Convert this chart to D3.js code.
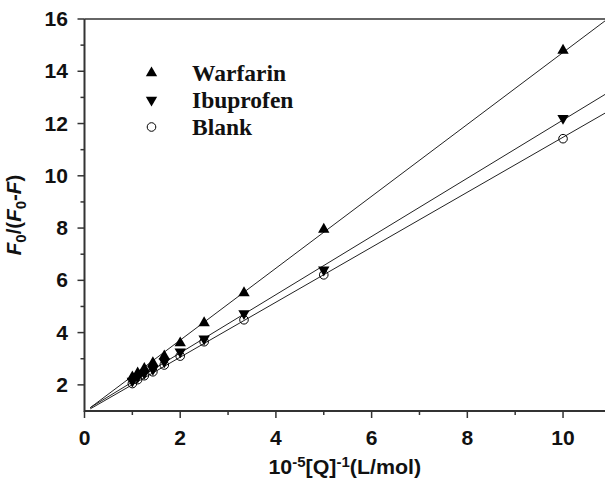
<!DOCTYPE html>
<html><head><meta charset="utf-8">
<script src="https://cdn.jsdelivr.net/npm/d3@7"></script>
<style>body{margin:0;background:#fff}svg{display:block}</style>
</head><body>
<svg id="c" width="605" height="479"></svg>
<script>
const xValues = [1, 1.111, 1.25, 1.429, 1.667, 2, 2.5, 3.333, 5, 10];
const seriesNames = ["Warfarin", "Ibuprofen", "Blank"];
const warfarin = [2.3, 2.45, 2.62, 2.84, 3.1, 3.6, 4.37, 5.52, 7.95, 14.8];
const ibuprofen = [2.15, 2.3, 2.45, 2.6, 2.89, 3.27, 3.76, 4.73, 6.4, 12.2];
const blank = [2.05, 2.2, 2.35, 2.5, 2.76, 3.1, 3.65, 4.49, 6.21, 11.42];
const fitSlopes = [1.376, 1.114, 1.052];
const fitIntercepts = [0.96, 0.996, 0.955];
const fitStart = 0.12;
const xTicks = [0, 2, 4, 6, 8, 10];
const xMinorTicks = [1, 3, 5, 7, 9];
const yTicks = [2, 4, 6, 8, 10, 12, 14, 16];
const yMinorTicks = [3, 5, 7, 9, 11, 13, 15];

const svg = d3.select("#c");
const L = 84.5, R = 605, T = 19, B = 411;
const x = d3.scaleLinear().domain([0, 10.877]).range([L, R]);
const y = d3.scaleLinear().domain([1, 16]).range([B, T]);
const sans = "'Liberation Sans', Arial, Helvetica, sans-serif";
const serif = "'Liberation Serif', 'Times New Roman', serif";

svg.append("defs").append("clipPath").attr("id", "clip")
  .append("rect").attr("x", L).attr("y", T).attr("width", R - L).attr("height", B - T);

const series = [warfarin, ibuprofen, blank];
const gLines = svg.append("g").attr("clip-path", "url(#clip)");
fitSlopes.forEach((m, i) => {
  const b = fitIntercepts[i];
  gLines.append("line")
    .attr("x1", x(fitStart)).attr("y1", y(b + m * fitStart))
    .attr("x2", x(12)).attr("y2", y(b + m * 12))
    .attr("stroke", "#222").attr("stroke-width", 1);
});

const triSize = 56;
const up = d3.symbol().type(d3.symbolTriangle).size(triSize);
function drawMarker(g, kind, cx, cy) {
  if (kind === 0) {
    g.append("path").attr("d", up()).attr("transform", `translate(${cx},${cy})`).attr("fill", "#000");
  } else if (kind === 1) {
    g.append("path").attr("d", up()).attr("transform", `translate(${cx},${cy}) rotate(180)`).attr("fill", "#000");
  } else {
    g.append("circle").attr("cx", cx).attr("cy", cy).attr("r", 4.3)
      .attr("fill", "none").attr("stroke", "#000").attr("stroke-width", 1);
  }
}
const gPts = svg.append("g");
[2, 1, 0].forEach(i => {
  series[i].forEach((v, j) => drawMarker(gPts, i, x(xValues[j]), y(v)));
});

const ax = svg.append("g").attr("stroke", "#333");
ax.append("line").attr("x1", L).attr("x2", R).attr("y1", B).attr("y2", B).attr("stroke-width", 2);
ax.append("line").attr("x1", L).attr("x2", L).attr("y1", T).attr("y2", B + 1).attr("stroke-width", 2);
ax.append("line").attr("x1", L).attr("x2", R).attr("y1", T).attr("y2", T).attr("stroke-width", 1.5);

xTicks.forEach(t => ax.append("line").attr("x1", x(t)).attr("x2", x(t)).attr("y1", B).attr("y2", B + 7).attr("stroke-width", 1.5));
xMinorTicks.forEach(t => ax.append("line").attr("x1", x(t)).attr("x2", x(t)).attr("y1", B).attr("y2", B + 4).attr("stroke-width", 1.5));
yTicks.forEach(t => ax.append("line").attr("x1", L - 7).attr("x2", L).attr("y1", y(t)).attr("y2", y(t)).attr("stroke-width", 1.5));
yMinorTicks.forEach(t => ax.append("line").attr("x1", L - 4).attr("x2", L).attr("y1", y(t)).attr("y2", y(t)).attr("stroke-width", 1.5));

const sx = 1.08;
xTicks.forEach(d => {
  svg.append("text").attr("transform", `translate(${x(d)},445) scale(${sx},1)`)
    .attr("text-anchor", "middle")
    .attr("font-family", sans).attr("font-weight", "bold").attr("font-size", 19.5).attr("fill", "#111")
    .text(d);
});
yTicks.forEach(d => {
  svg.append("text").attr("transform", `translate(68,${y(d) + 7}) scale(${sx},1)`)
    .attr("text-anchor", "end")
    .attr("font-family", sans).attr("font-weight", "bold").attr("font-size", 19.5).attr("fill", "#111")
    .text(d);
});

const xt = svg.append("text").attr("transform", `translate(${(L + R) / 2},474) scale(1.07,1)`)
  .attr("text-anchor", "middle")
  .attr("font-family", sans).attr("font-weight", "bold").attr("font-size", 20).attr("fill", "#111");
xt.append("tspan").text("10");
xt.append("tspan").attr("dy", -7).attr("font-size", 14).text("-5");
xt.append("tspan").attr("dy", 7).text("[Q]");
xt.append("tspan").attr("dy", -7).attr("font-size", 14).text("-1");
xt.append("tspan").attr("dy", 7).text("(L/mol)");

const yt = svg.append("text").attr("transform", `translate(21,${(T + B) / 2}) rotate(-90)`)
  .attr("text-anchor", "middle")
  .attr("font-family", sans).attr("font-weight", "bold").attr("font-size", 20.5).attr("fill", "#111");
yt.append("tspan").attr("font-style", "italic").text("F");
yt.append("tspan").attr("dy", 5).attr("font-size", 15).text("0");
yt.append("tspan").attr("dy", -5).text("/(");
yt.append("tspan").attr("font-style", "italic").text("F");
yt.append("tspan").attr("dy", 5).attr("font-size", 15).text("0");
yt.append("tspan").attr("dy", -5).text("-");
yt.append("tspan").attr("font-style", "italic").text("F");
yt.append("tspan").text(")");

const legY = [73, 100, 127];
const lg = svg.append("g");
seriesNames.forEach((n, i) => {
  drawMarker(lg, i, 151.5, legY[i]);
  lg.append("text").attr("x", 192).attr("y", legY[i] + 8)
    .attr("font-family", serif).attr("font-weight", "bold").attr("font-size", 23.5).attr("fill", "#111")
    .text(n);
});
</script>
</body></html>
